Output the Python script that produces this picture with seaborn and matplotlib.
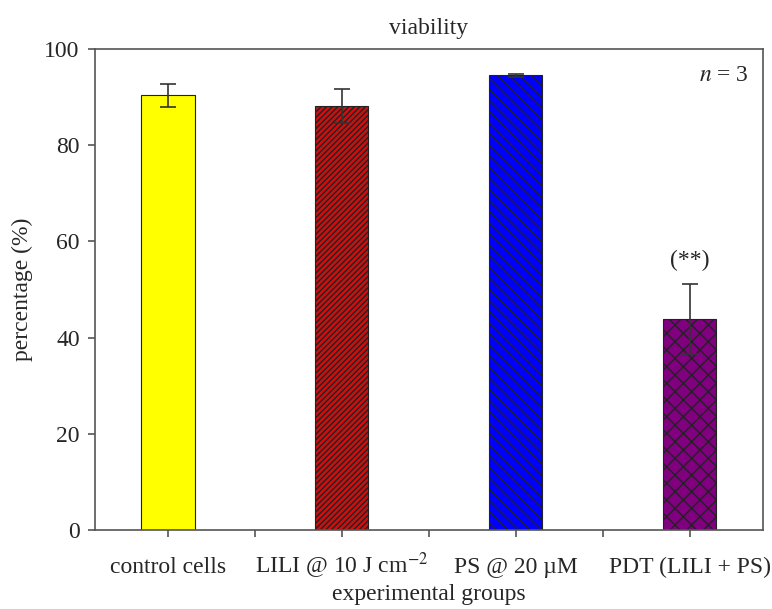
import matplotlib
matplotlib.use("Agg")
import matplotlib.pyplot as plt
import seaborn as sns
import pandas as pd

groups = ["control cells", "LILI @ 10 J cm$^{-2}$", "PS @ 20 \u00b5M", "PDT (LILI + PS)"]
viability = [90.4, 88.1, 94.5, 43.9]
errors = [2.4, 3.5, 0.3, 7.3]
colors = ["#ffff00", "#cc0f0f", "#0000ff", "#800080"]
hatches = ["", "//////", "\\\\\\", "xx"]

sns.set_style("ticks")
plt.rcParams["font.family"] = ["Liberation Serif", "DejaVu Serif"]
plt.rcParams["mathtext.fontset"] = "stix"
plt.rcParams["hatch.linewidth"] = 1.0
plt.rcParams["hatch.color"] = "#111111"

df = pd.DataFrame({"group": groups, "viability": viability})

fig = plt.figure(figsize=(7.72, 6.09), dpi=100)
ax = fig.add_axes([0.123, 0.1297, 0.865, 0.79])

sns.barplot(data=df, x="group", y="viability", hue="group", palette=colors,
            saturation=1, width=0.305, edgecolor="#222222", linewidth=0.8,
            legend=False, errorbar=None, ax=ax)
for patch, h in zip(ax.patches, hatches):
    patch.set_hatch(h)

ax.errorbar(range(len(groups)), viability, yerr=errors, fmt="none",
            ecolor="#333333", elinewidth=1.2, capsize=5.5, capthick=1.2)

ax.set_xlim(-0.42, 3.42)
ax.set_ylim(0, 100)
ax.set_yticks([0, 20, 40, 60, 80, 100])
ax.set_xticks([0.5, 1.5, 2.5], minor=True)

for s in ax.spines.values():
    s.set_visible(True)
    s.set_color("#555555")
    s.set_linewidth(1.2)

ax.tick_params(axis="both", which="major", labelsize=17, length=5,
               color="#555555", width=1.2, direction="out", pad=6)
ax.tick_params(axis="x", which="major", pad=26)
ax.tick_params(axis="x", which="minor", length=5, color="#555555", width=1.2)
for lab in ax.get_xticklabels():
    lab.set_verticalalignment("baseline")

ax.set_title("viability", fontsize=17, pad=11)
ax.set_xlabel("experimental groups", fontsize=17, labelpad=2)
ax.set_ylabel("percentage (%)", fontsize=17, labelpad=8)

ax.text(3, 56, "(**)", ha="center", va="center", fontsize=17)
ax.text(3.34, 94.4, "$n$ = 3", ha="right", va="center", fontsize=17)

fig.savefig("out.png", dpi=100)
